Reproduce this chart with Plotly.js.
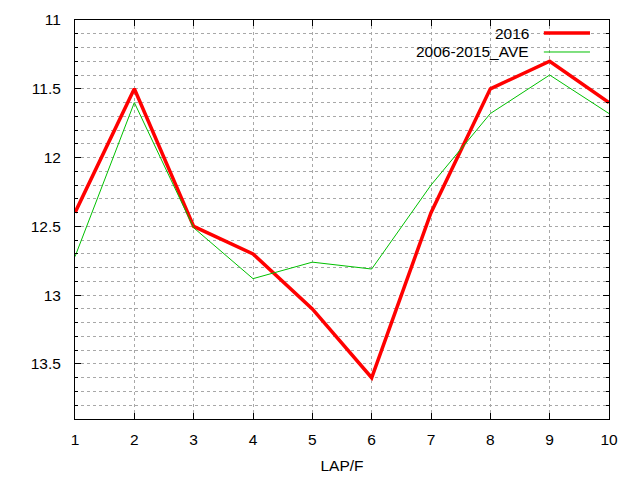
<!DOCTYPE html>
<html>
<head>
<meta charset="utf-8">
<script src="https://cdn.plot.ly/plotly-3.0.1.min.js"></script>
<style>
  html, body { margin: 0; padding: 0; background: #fff; }
  #chart { width: 640px; height: 480px; }
</style>
</head>
<body>
<div id="chart"></div>
<script>
const laps = [1, 2, 3, 4, 5, 6, 7, 8, 9, 10]
const times2016 = [12.4, 11.5, 12.5, 12.7, 13.1, 13.6, 12.4, 11.5, 11.3, 11.6]
const timesAve = [12.72, 11.6, 12.51, 12.88, 12.76, 12.81, 12.2, 11.68, 11.4, 11.68]
const seriesNames = ['2016', '2006-2015_AVE']
const seriesColors = ['#ff0000', '#00c000']

const Plotly = window.Plotly
const fontFamily = '"Liberation Sans", Arial, sans-serif'

let trace1 = {
  x: laps,
  y: times2016,
  name: seriesNames[0],
  type: 'scatter',
  mode: 'lines',
  line: { color: seriesColors[0], width: 3.5 },
  showlegend: false,
}

let trace2 = {
  x: laps,
  y: timesAve,
  name: seriesNames[1],
  type: 'scatter',
  mode: 'lines',
  line: { color: seriesColors[1], width: 1 },
  showlegend: false,
}

// gnuplot style key: text on the left, sample line on the right
const keyRows = [0.9674, 0.9198]
let annotations = seriesNames.map((name, i) => ({
  x: 0.854, y: keyRows[i], xref: 'paper', yref: 'paper',
  xanchor: 'right', yanchor: 'middle',
  text: name, showarrow: false,
  font: { family: fontFamily, size: 15.5, color: '#000' },
}))

let shapes = [
  {
    type: 'rect', xref: 'paper', yref: 'paper',
    x0: 0.62, x1: 0.979, y0: 0.905, y1: 0.995,
    fillcolor: '#fff', line: { width: 0 }, layer: 'between',
  },
]
seriesNames.forEach((name, i) => {
  shapes.push({
    type: 'line', xref: 'paper', yref: 'paper',
    x0: 0.878, x1: 0.9644, y0: keyRows[i], y1: keyRows[i],
    line: { color: seriesColors[i], width: i === 0 ? 3.5 : 1 },
    layer: 'above',
  })
})

let layout = {
  width: 640,
  height: 480,
  margin: { l: 75, r: 31, t: 20, b: 61 },
  paper_bgcolor: '#fff',
  plot_bgcolor: '#fff',
  font: { family: fontFamily, size: 15.5, color: '#000' },
  xaxis: {
    range: [1, 10],
    tick0: 1,
    dtick: 1,
    showline: true,
    linecolor: '#000',
    linewidth: 1,
    mirror: 'ticks',
    ticks: 'inside',
    ticklen: 6,
    tickcolor: '#000',
    ticklabelstandoff: 6,
    showgrid: true,
    gridcolor: '#a8a8a8',
    griddash: '3px,3px',
    zeroline: false,
    title: { text: 'LAP/F', standoff: 13, font: { family: fontFamily, size: 15.5 } },
  },
  yaxis: {
    range: [13.9, 11],
    autorange: false,
    tick0: 11,
    dtick: 0.5,
    showline: true,
    linecolor: '#000',
    linewidth: 1,
    mirror: 'ticks',
    ticks: 'inside',
    ticklen: 6,
    tickcolor: '#000',
    ticklabelstandoff: 10,
    showgrid: true,
    gridcolor: '#a8a8a8',
    griddash: '3px,3px',
    zeroline: false,
    minor: {
      dtick: 0.1,
      ticks: 'inside',
      ticklen: 3,
      tickcolor: '#000',
      showgrid: true,
      gridcolor: '#a8a8a8',
      griddash: '3px,3px',
    },
  },
  annotations: annotations,
  shapes: shapes,
}

Plotly.newPlot('chart', [trace1, trace2], layout, { displayModeBar: false, staticPlot: true })
</script>
</body>
</html>
